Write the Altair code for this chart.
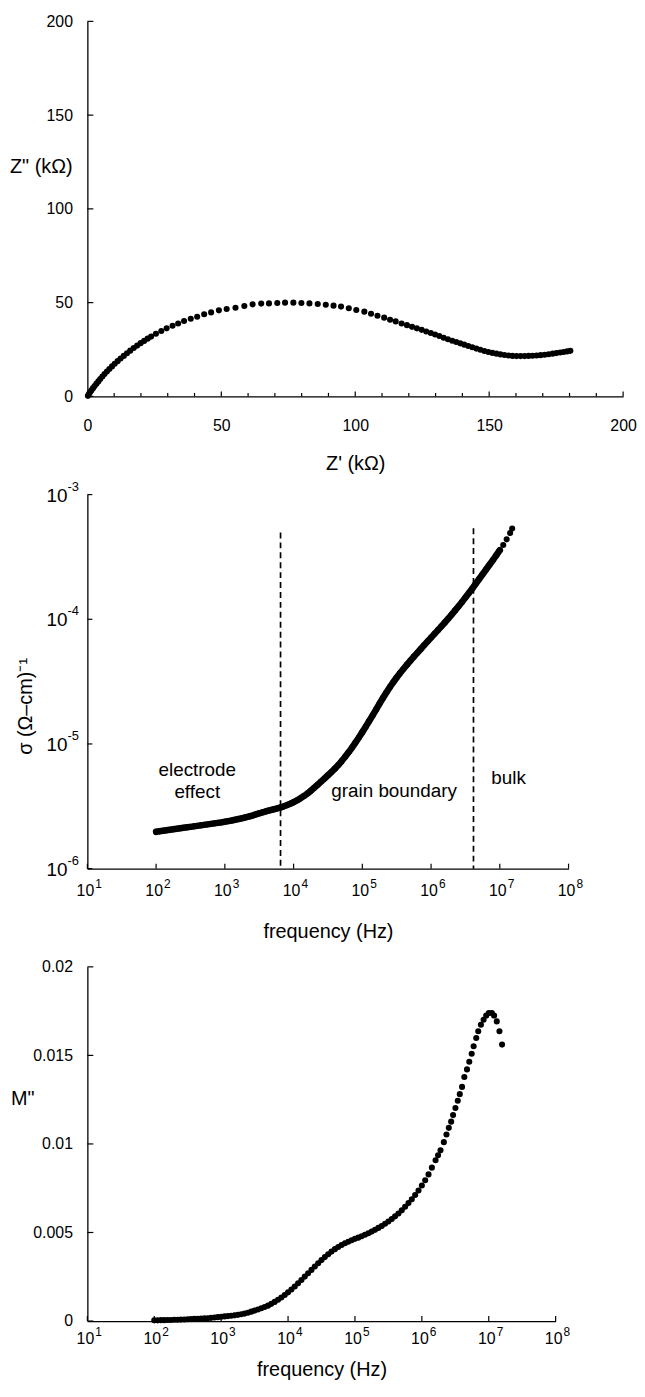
import altair as alt
import pandas as pd
import numpy as np

FONT = "Liberation Sans"

# ---------------- Panel 1 : Nyquist plot (kOhm) ----------------
z_real = [0.2, 0.6, 1.0, 1.5, 2.1, 2.7, 3.4, 4.1, 4.8, 5.6, 6.4, 7.3, 8.2, 9.2, 10.2, 11.3, 12.4, 13.6, 14.8, 16.0,
          17.3, 18.6, 19.9, 21.2, 22.5, 23.8,
          25.6, 27.6, 29.6, 31.8, 33.9, 36.1, 38.6, 41.0, 43.6, 46.2, 49.1, 52.0, 55.3, 58.6, 61.7, 64.9, 67.8, 70.9, 73.8,
          76.9, 79.9, 82.9, 86.0, 89.0, 91.9, 94.7, 97.6, 100.4, 103.4, 105.9, 108.3, 110.8, 113.0, 115.1, 117.3,
          119.3, 121.2, 123.0, 124.8, 126.5, 128.2, 129.8, 131.4, 133.0, 134.6, 136.2, 137.7, 139.2, 140.7, 142.2, 143.7,
          145.2, 146.7, 148.2, 149.7, 151.2, 152.7, 154.2, 155.7, 157.2, 158.7, 160.2, 161.7, 163.2, 164.7, 166.2, 167.7,
          169.2, 170.7, 172.2, 173.7, 175.1, 176.5, 177.8, 179.1, 180.3]
z_imag = [0.3, 1.3, 2.2, 3.2, 4.4, 5.5, 6.8, 8.0, 9.3, 10.6, 11.9, 13.3, 14.6, 16.0, 17.4, 18.8, 20.2, 21.6, 23.0, 24.4,
          25.8, 27.1, 28.4, 29.6, 30.8, 31.9,
          33.4, 34.9, 36.3, 37.7, 38.9, 40.2, 41.4, 42.5, 43.8, 44.8, 45.9, 46.6, 47.3, 48.2, 49.1, 49.5, 49.6, 49.8, 50.0,
          50.0, 49.8, 49.6, 49.3, 48.9, 48.4, 47.9, 47.0, 46.1, 45.2, 44.1, 43.0, 42.0, 40.9, 40.0, 38.9,
          38.0, 37.1, 36.3, 35.5, 34.6, 33.8, 33.0, 32.2, 31.3, 30.5, 29.7, 29.0, 28.3, 27.6, 26.9, 26.2,
          25.5, 24.9, 24.2, 23.7, 23.2, 22.8, 22.4, 22.1, 21.8, 21.6, 21.5, 21.5, 21.5, 21.6, 21.7, 21.8,
          22.0, 22.2, 22.5, 22.8, 23.1, 23.4, 23.7, 24.0, 24.3]
nyq_labels = [0, 50, 100, 150, 200]
nyq_minor = [0, 10, 20, 30, 40, 60, 70, 80, 90, 110, 120, 130, 140, 160, 170, 180, 190]

# ---------------- Panel 2 : conductivity vs frequency ----------------
log_freq_sigma = [2.00, 2.05, 2.10, 2.15, 2.20, 2.25, 2.30, 2.35, 2.40, 2.45, 2.50, 2.55, 2.60, 2.65, 2.70, 2.75,
                  2.80, 2.85, 2.90, 2.95, 3.00, 3.05, 3.10, 3.15, 3.20, 3.25, 3.30, 3.35, 3.40, 3.45, 3.50, 3.55,
                  3.60, 3.65, 3.70, 3.75, 3.80, 3.85, 3.90, 3.95, 4.00, 4.05, 4.10, 4.15, 4.20, 4.25, 4.30, 4.35,
                  4.40, 4.45, 4.50, 4.55, 4.60, 4.65, 4.70, 4.75, 4.80, 4.85, 4.90, 4.95, 5.00, 5.05, 5.10, 5.15,
                  5.20, 5.25, 5.30, 5.35, 5.40, 5.45, 5.50, 5.55, 5.60, 5.65, 5.70, 5.75, 5.80, 5.85, 5.90, 5.95,
                  6.00, 6.05, 6.10, 6.15, 6.20, 6.25, 6.30, 6.35, 6.40, 6.45, 6.50, 6.55, 6.60, 6.65, 6.70, 6.75,
                  6.80, 6.85, 6.90, 6.95, 7.00, 7.05, 7.10, 7.15, 7.18]
log_sigma = [-5.705, -5.701, -5.697, -5.693, -5.689, -5.685, -5.681, -5.677, -5.673, -5.669, -5.665, -5.661,
             -5.657, -5.653, -5.649, -5.645, -5.641, -5.637, -5.633, -5.629, -5.624, -5.619, -5.614, -5.608,
             -5.602, -5.596, -5.589, -5.582, -5.574, -5.565, -5.556, -5.548, -5.540, -5.533, -5.526, -5.519,
             -5.511, -5.502, -5.492, -5.480, -5.467, -5.452, -5.436, -5.418, -5.398, -5.376, -5.352, -5.327,
             -5.302, -5.277, -5.251, -5.225, -5.198, -5.169, -5.137, -5.103, -5.067, -5.029, -4.989, -4.948,
             -4.905, -4.861, -4.816, -4.771, -4.724, -4.677, -4.631, -4.587, -4.545, -4.505, -4.467, -4.431,
             -4.397, -4.364, -4.332, -4.300, -4.269, -4.238, -4.207, -4.177, -4.147, -4.117, -4.087, -4.057,
             -4.026, -3.994, -3.962, -3.929, -3.895, -3.861, -3.826, -3.790, -3.753, -3.715, -3.677, -3.639,
             -3.601, -3.563, -3.525, -3.486, -3.446, -3.404, -3.359, -3.308, -3.272]
boundary_freq = [6.46e3, 4.14e6]
boundary_top = [4.97e-4, 5.37e-4]
region_text = ["electrode\neffect", "grain boundary", "bulk"]
region_freq = [397, 2.9e5, 1.34e7]
region_sigma = [6.15e-6, 4.19e-6, 5.31e-6]
sigma_exponents = [-3, -4, -5, -6]

# ---------------- Panel 3 : electric modulus ----------------
log_freq_m = [2.00, 2.05, 2.10, 2.15, 2.20, 2.25, 2.30, 2.35, 2.40, 2.45, 2.50, 2.55, 2.60, 2.65, 2.70, 2.75,
              2.80, 2.85, 2.90, 2.95, 3.00, 3.05, 3.10, 3.15, 3.20, 3.25, 3.30, 3.35, 3.40, 3.45, 3.50, 3.55,
              3.60, 3.65, 3.70, 3.75, 3.80, 3.85, 3.90, 3.95, 4.00, 4.05, 4.10, 4.15, 4.20, 4.25, 4.30, 4.35,
              4.40, 4.45, 4.50, 4.55, 4.60, 4.65, 4.70, 4.75, 4.80, 4.85, 4.90, 4.95, 5.00, 5.05, 5.10, 5.15,
              5.20, 5.25, 5.30, 5.35, 5.40, 5.45, 5.50, 5.55, 5.60, 5.65, 5.70, 5.75, 5.80, 5.85, 5.90, 5.95,
              6.00, 6.05, 6.10, 6.15, 6.205, 6.242, 6.279, 6.329, 6.368, 6.403, 6.438, 6.467, 6.502, 6.537,
              6.567, 6.601, 6.635, 6.675, 6.709, 6.745, 6.774, 6.813, 6.843, 6.883, 6.923, 6.962, 7.001,
              7.046, 7.080, 7.120, 7.160, 7.199]
m_imag = [0.00004, 0.00004, 0.00005, 0.00005, 0.00006, 0.00006, 0.00007, 0.00007, 0.00008, 0.00009, 0.00010,
          0.00011, 0.00012, 0.00013, 0.00014, 0.00015, 0.00016, 0.00018, 0.00020, 0.00022, 0.00024, 0.00026,
          0.00028, 0.00030, 0.00032, 0.00035, 0.00038, 0.00042, 0.00047, 0.00053, 0.00059, 0.00065, 0.00072,
          0.00079, 0.00087, 0.00097, 0.00108, 0.00120, 0.00133, 0.00147, 0.00162, 0.00178, 0.00195, 0.00213,
          0.00232, 0.00251, 0.00270, 0.00289, 0.00308, 0.00326, 0.00344, 0.00361, 0.00377, 0.00392, 0.00406,
          0.00418, 0.00429, 0.00439, 0.00448, 0.00456, 0.00464, 0.00471, 0.00479, 0.00487, 0.00496, 0.00505,
          0.00515, 0.00526, 0.00537, 0.00549, 0.00562, 0.00576, 0.00591, 0.00607, 0.00625, 0.00645, 0.00666,
          0.00688, 0.00712, 0.00737, 0.00765, 0.00795, 0.00828, 0.00866, 0.00908, 0.00936, 0.00964, 0.01010,
          0.01053, 0.01091, 0.01126, 0.01163, 0.01203, 0.01244, 0.01281, 0.01322, 0.01378, 0.01421, 0.01464,
          0.01509, 0.01552, 0.01598, 0.01636, 0.01673, 0.01701, 0.01725, 0.01739, 0.01739, 0.01725, 0.01692,
          0.01636, 0.01561]
m_ticks = [0, 0.005, 0.01, 0.015, 0.02]
freq_exponents = [1, 2, 3, 4, 5, 6, 7, 8]

DOT = 38
TICK_W = 1.2

# ======================= Panel 1 =======================
W1, H1 = 540, 378
nyq = pd.DataFrame({"zr": z_real, "zi": z_imag})
xs1 = alt.Scale(domain=[0, 200], nice=False, zero=False)
ys1 = alt.Scale(domain=[0, 200], nice=False, zero=False)
xa1 = alt.Axis(values=nyq_labels, title="Z' (kΩ)", labelPadding=21, titleY=68, titleBaseline="middle")
ya1 = alt.Axis(values=nyq_labels, title='Z" (kΩ)', labelPadding=15, titleAngle=0, titleX=-78.5,
               titleY=146, titleAlign="left", titleBaseline="middle")

p1_pts = alt.Chart(nyq).mark_circle(size=DOT, color="black", opacity=1).encode(
    x=alt.X("zr:Q", scale=xs1, axis=xa1), y=alt.Y("zi:Q", scale=ys1, axis=ya1))
p1_xmaj = alt.Chart(pd.DataFrame({"v": nyq_labels})).mark_rule(color="black", strokeWidth=TICK_W).encode(
    x=alt.X("v:Q", scale=xs1, axis=xa1), y=alt.value(H1), y2=alt.value(H1 - 5))
p1_xmin = alt.Chart(pd.DataFrame({"v": nyq_minor})).mark_rule(color="black", strokeWidth=TICK_W).encode(
    x=alt.X("v:Q", scale=xs1, axis=xa1), y=alt.value(H1), y2=alt.value(H1 - 3.5))
p1_ytk = alt.Chart(pd.DataFrame({"v": nyq_labels})).mark_rule(color="black", strokeWidth=TICK_W).encode(
    y=alt.Y("v:Q", scale=ys1, axis=ya1), x=alt.value(0), x2=alt.value(6))
panel1 = alt.layer(p1_xmin, p1_xmaj, p1_ytk, p1_pts).properties(width=W1, height=H1)

# ======================= Panel 2 =======================
W2, H2 = 485, 377
sig = pd.DataFrame({"lf": log_freq_sigma, "f": 10 ** np.array(log_freq_sigma), "s": 10 ** np.array(log_sigma)})
sig_band = sig[sig["lf"] <= 7.0]
xs2 = alt.Scale(type="log", domain=[10, 1e8], nice=False)
ys2 = alt.Scale(type="log", domain=[1e-6, 1e-3], nice=False)
xa2 = alt.Axis(labels=False, title="frequency (Hz)", titleY=63.5, titleBaseline="middle")
ya2 = alt.Axis(labels=False, title="σ (Ω–cm)⁻¹", titleAngle=270, titleX=-62.5, titleY=213,
               titleAlign="center", titleBaseline="middle")

fx = pd.DataFrame({"f": [10.0 ** e for e in freq_exponents], "e": [str(e) for e in freq_exponents]})
sy = pd.DataFrame({"s": [10.0 ** e for e in sigma_exponents], "e": [str(e) for e in sigma_exponents]})
bnd = pd.DataFrame({"f": boundary_freq, "top": boundary_top, "bottom": [1e-6] * len(boundary_freq)})
reg = pd.DataFrame({"f": region_freq, "s": region_sigma, "t": region_text})

p2_band = alt.Chart(sig_band).mark_line(color="black", strokeWidth=6.6, strokeCap="round",
                                        strokeJoin="round").encode(
    x=alt.X("f:Q", scale=xs2, axis=xa2), y=alt.Y("s:Q", scale=ys2, axis=ya2), order="lf:Q")
p2_pts = alt.Chart(sig).mark_circle(size=DOT, color="black", opacity=1).encode(
    x=alt.X("f:Q", scale=xs2, axis=xa2), y=alt.Y("s:Q", scale=ys2, axis=ya2))
p2_bnd = alt.Chart(bnd).mark_rule(color="black", strokeWidth=1.7, strokeDash=[6, 4]).encode(
    x=alt.X("f:Q", scale=xs2, axis=xa2), y=alt.Y("top:Q", scale=ys2, axis=ya2), y2="bottom:Q")
p2_reg = alt.Chart(reg).mark_text(font=FONT, fontSize=19, lineBreak="\n", lineHeight=22, align="center",
                                  baseline="middle", color="black").encode(
    x=alt.X("f:Q", scale=xs2, axis=xa2), y=alt.Y("s:Q", scale=ys2, axis=ya2), text="t:N")
p2_xtk = alt.Chart(fx).mark_rule(color="black", strokeWidth=TICK_W).encode(
    x=alt.X("f:Q", scale=xs2, axis=xa2), y=alt.value(H2), y2=alt.value(H2 - 5))
p2_ytk = alt.Chart(sy).mark_rule(color="black", strokeWidth=TICK_W).encode(
    y=alt.Y("s:Q", scale=ys2, axis=ya2), x=alt.value(0), x2=alt.value(5))
p2_xl10 = alt.Chart(fx).mark_text(font=FONT, fontSize=16, align="center", baseline="middle", dx=-2,
                                  color="black").encode(
    x=alt.X("f:Q", scale=xs2, axis=xa2), y=alt.value(H2 + 23), text=alt.value("10"))
p2_xlex = alt.Chart(fx).mark_text(font=FONT, fontSize=12, align="left", baseline="middle", dx=8,
                                  color="black").encode(
    x=alt.X("f:Q", scale=xs2, axis=xa2), y=alt.value(H2 + 16), text="e:N")
p2_yl10 = alt.Chart(sy).mark_text(font=FONT, fontSize=19, align="right", baseline="middle", dy=1,
                                  color="black").encode(
    y=alt.Y("s:Q", scale=ys2, axis=ya2), x=alt.value(-20), text=alt.value("10"))
p2_ylex = alt.Chart(sy).mark_text(font=FONT, fontSize=13, align="left", baseline="middle", dy=-8,
                                  color="black").encode(
    y=alt.Y("s:Q", scale=ys2, axis=ya2), x=alt.value(-20), text="e:N")
panel2 = alt.layer(p2_bnd, p2_xtk, p2_ytk, p2_band, p2_pts, p2_reg, p2_xl10, p2_xlex, p2_yl10,
                   p2_ylex).properties(width=W2, height=H2)

# ======================= Panel 3 =======================
W3, H3 = 472, 357
mod = pd.DataFrame({"f": 10 ** np.array(log_freq_m), "m": m_imag})
xs3 = alt.Scale(type="log", domain=[10, 1e8], nice=False)
ys3 = alt.Scale(domain=[0, 0.02], nice=False, zero=False)
xa3 = alt.Axis(labels=False, title="frequency (Hz)", titleY=49, titleBaseline="middle")
ya3 = alt.Axis(values=m_ticks, format="~g", labelPadding=15, title='M"', titleAngle=0, titleX=-77.5,
               titleY=133, titleAlign="left", titleBaseline="middle")

p3_pts = alt.Chart(mod).mark_circle(size=DOT, color="black", opacity=1).encode(
    x=alt.X("f:Q", scale=xs3, axis=xa3), y=alt.Y("m:Q", scale=ys3, axis=ya3))
p3_xtk = alt.Chart(fx).mark_rule(color="black", strokeWidth=TICK_W).encode(
    x=alt.X("f:Q", scale=xs3, axis=xa3), y=alt.value(H3), y2=alt.value(H3 - 5))
p3_ytk = alt.Chart(pd.DataFrame({"v": m_ticks})).mark_rule(color="black", strokeWidth=TICK_W).encode(
    y=alt.Y("v:Q", scale=ys3, axis=ya3), x=alt.value(0), x2=alt.value(6))
p3_xl10 = alt.Chart(fx).mark_text(font=FONT, fontSize=16, align="center", baseline="middle", dx=-2,
                                  color="black").encode(
    x=alt.X("f:Q", scale=xs3, axis=xa3), y=alt.value(H3 + 18), text=alt.value("10"))
p3_xlex = alt.Chart(fx).mark_text(font=FONT, fontSize=12, align="left", baseline="middle", dx=8,
                                  color="black").encode(
    x=alt.X("f:Q", scale=xs3, axis=xa3), y=alt.value(H3 + 11), text="e:N")
panel3 = alt.layer(p3_xtk, p3_ytk, p3_pts, p3_xl10, p3_xlex).properties(width=W3, height=H3)

chart = alt.vconcat(panel1, panel2, panel3, spacing=99, bounds="flush").properties(
    padding={"left": 1, "top": 0, "right": 0, "bottom": 0}
).configure(font=FONT).configure_view(stroke=None).configure_axis(
    ticks=False, grid=False, domainColor="black", domainWidth=1.3, labelColor="black",
    labelFont=FONT, labelFontSize=16, labelFlush=False, labelOverlap=False,
    titleFont=FONT, titleFontSize=20, titleFontWeight="normal", titleColor="black"
)

chart.save("out.html", embed_options={"renderer": "svg", "actions": False})
